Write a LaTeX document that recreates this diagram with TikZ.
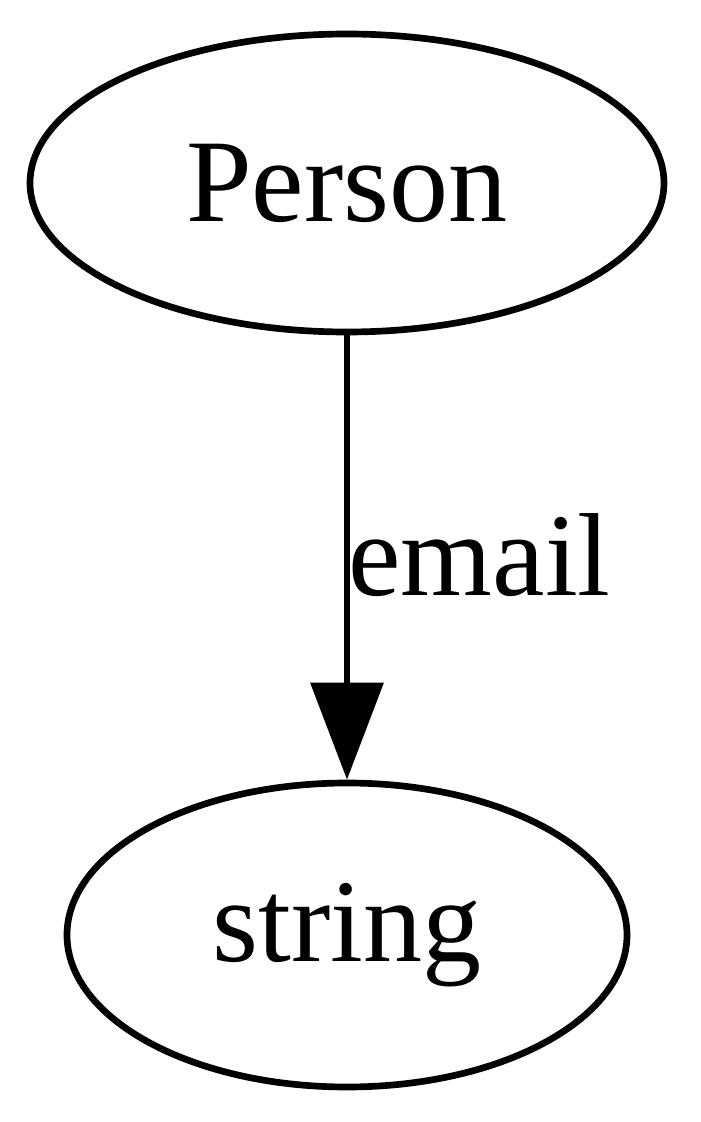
\documentclass[tikz,border=0pt]{standalone}
\usepackage{fontspec}
\setmainfont{Liberation Serif}
\usetikzlibrary{shapes.geometric}
\usetikzlibrary{arrows.meta}
\tikzset{
	typenode/.style={draw, ellipse, line width=1.9pt, inner sep=0pt},
	propedge/.style={line width=1.9pt, -{Triangle[length=0.97cm, width=0.72cm]}},
	biglabel/.style={font=\fontsize{33.6}{40}\selectfont}
}
\begin{document}
\begin{tikzpicture}
	% page: 700 x 1122 px, 1px = 0.01cm
	\useasboundingbox (0,0) rectangle (7,11.22);
	% nodes
	\node[typenode, biglabel, minimum width=6.34cm, minimum height=2.98cm] (person) at (3.47,9.39) {Person};
	\node[typenode, biglabel, minimum width=5.60cm, minimum height=3.04cm] (string) at (3.47,1.87) {string};
	% edge
	\draw[propedge] (person) -- node[right, biglabel, inner sep=0pt, xshift=-0.02cm, pos=0.495] (email) {email} (string);
\end{tikzpicture}
\end{document}
